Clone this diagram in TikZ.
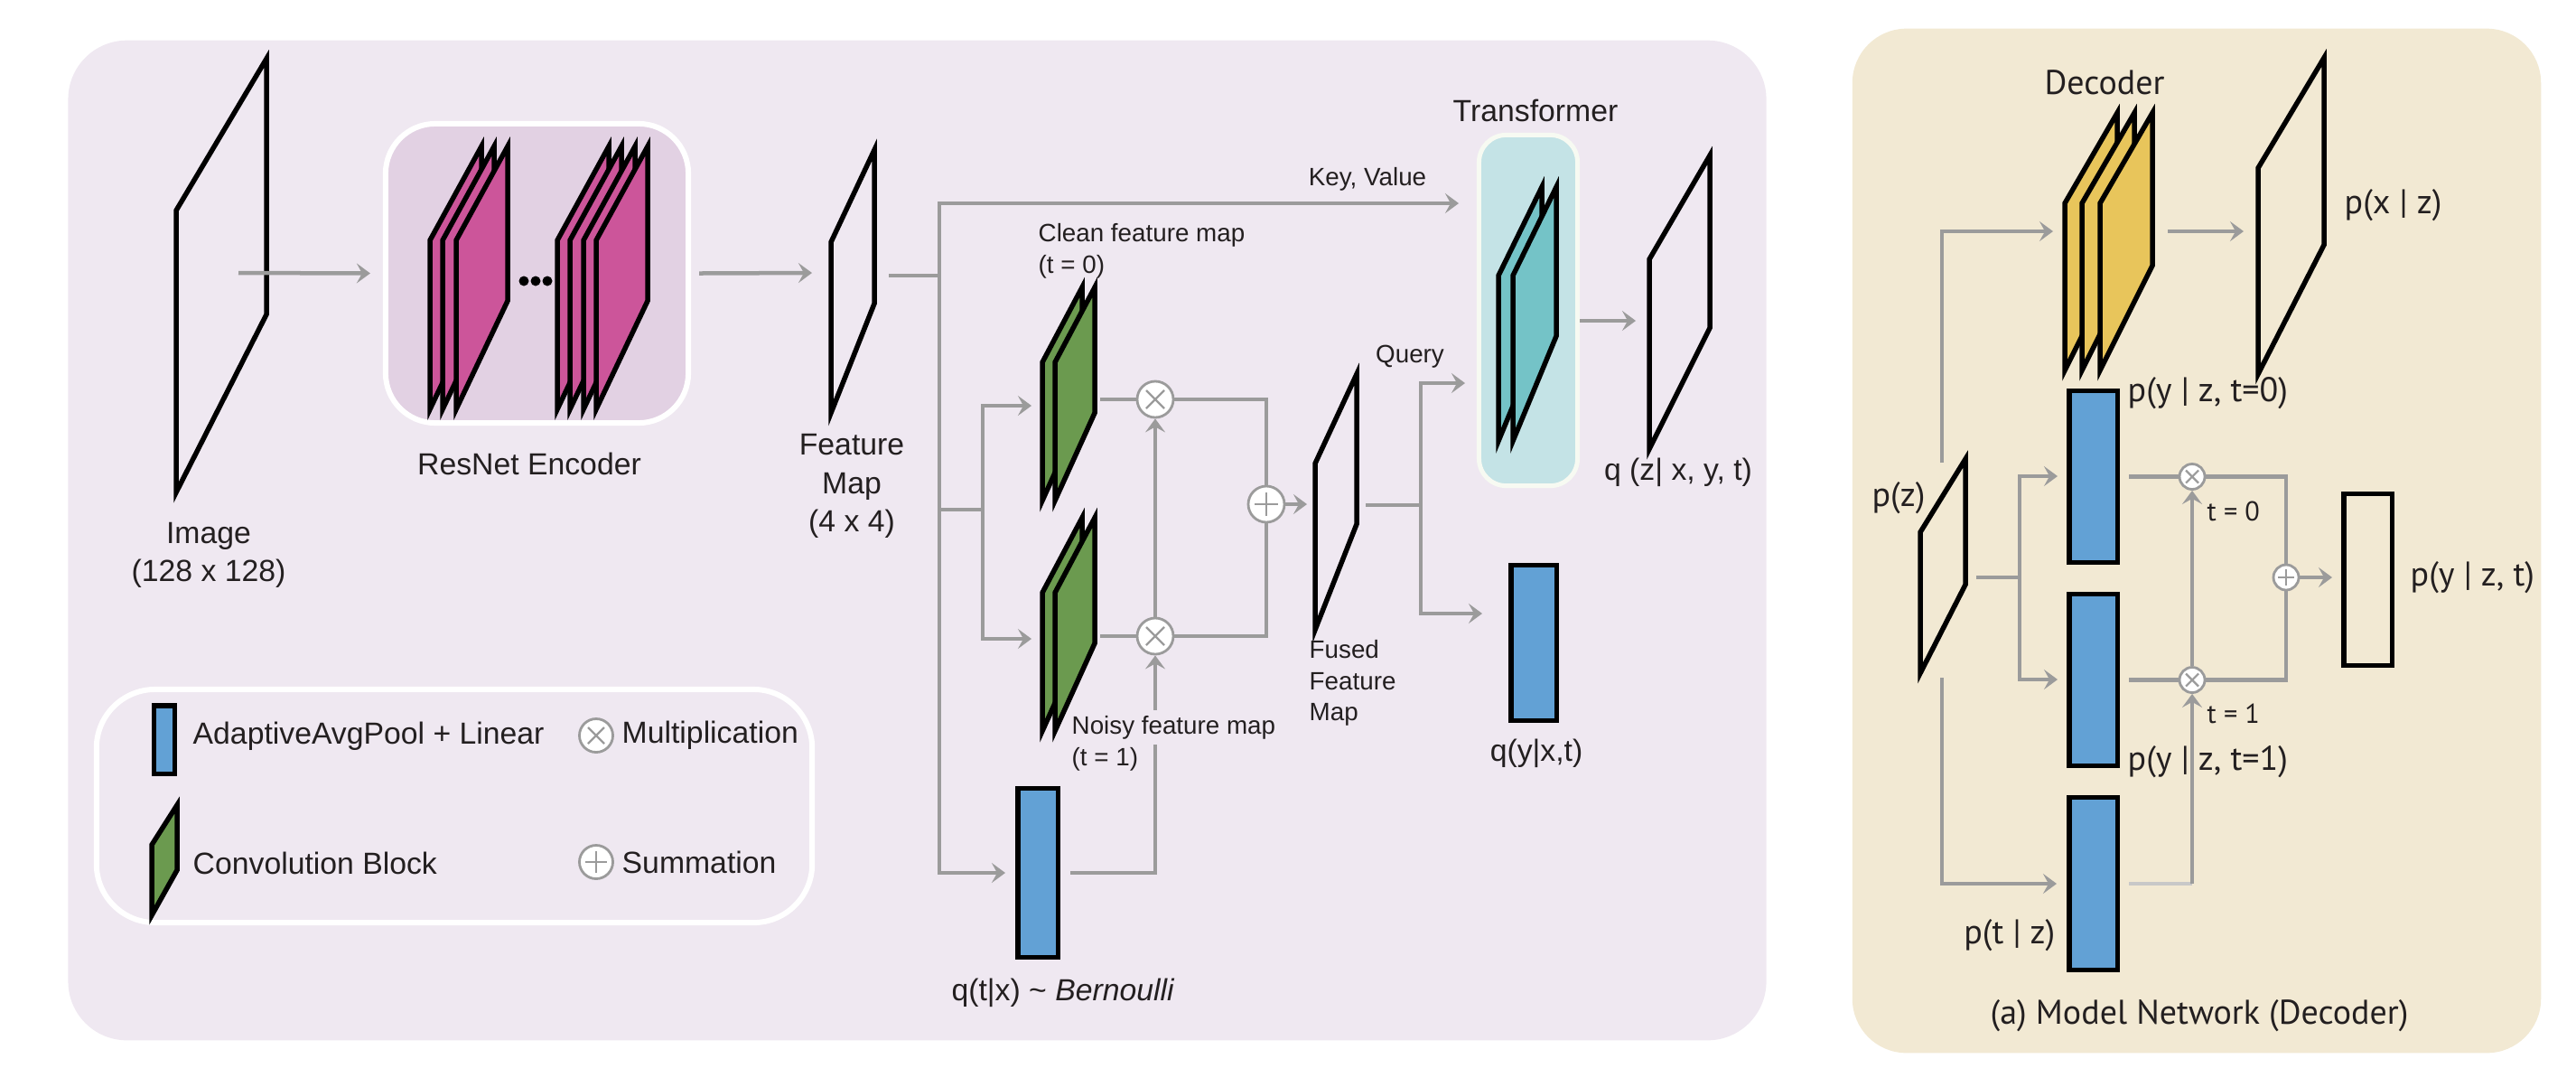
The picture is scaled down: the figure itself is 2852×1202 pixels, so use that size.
\documentclass[tikz,border=0pt]{standalone}
\usepackage{fontspec}
\setmainfont{Liberation Sans}
\newfontfamily\rightfam{PT Sans}
\usetikzlibrary{arrows.meta}
\definecolor{leftbg}{HTML}{EFE8F1}
\definecolor{resbg}{HTML}{E2D1E3}
\definecolor{rightbg}{HTML}{F2E9D3}
\definecolor{trbg}{HTML}{C4E3E6}
\definecolor{trborder}{HTML}{F7FAF2}
\definecolor{pinkfill}{HTML}{CC559A}
\definecolor{greenfill}{HTML}{6B9A4F}
\definecolor{tealfill}{HTML}{74C3C7}
\definecolor{boxblue}{HTML}{62A1D5}
\definecolor{yellowfill}{HTML}{E8C55B}
\definecolor{linegrey}{HTML}{9B9B9B}
\definecolor{lightgrey}{HTML}{C8C8C8}
\definecolor{txt}{HTML}{231F20}
\newcommand\lmainf{\fontsize{9.6pt}{12pt}\selectfont}
\newcommand\lsmallf{\fontsize{7.9pt}{9.8pt}\selectfont}
\newcommand\rmainf{\rightfam\fontsize{10.8pt}{13pt}\selectfont}
\newcommand\rsmallf{\rightfam\fontsize{8.6pt}{10pt}\selectfont}
\newcommand\mylayer[7]{\draw[blk, fill=#7] (#1,#2) -- (#1,#2-#4) -- (#1+#3,#2-#5) -- (#1+#3,#2-#6) -- cycle;}
\tikzset{
  conn/.style={draw=linegrey, line width=0.045cm},
  arr/.style={conn, -{Stealth[length=0.15cm, width=0.22cm, inset=0.06cm]}},
  blk/.style={draw=black, line width=0.055cm, line join=miter},
  bluebox/.style={blk, fill=boxblue, inner sep=0pt, rectangle},
  opnode/.style={circle, draw=linegrey, fill=white, line width=0.028cm, inner sep=0pt},
  mulop/.style={opnode, path picture={\draw[linegrey, line width=0.022cm] (path picture bounding box.center) +(-#1,-#1) -- +(#1,#1) +(-#1,#1) -- +(#1,-#1);}},
  sumop/.style={opnode, path picture={\draw[linegrey, line width=0.022cm] (path picture bounding box.center) +(-#1,0) -- +(#1,0) +(0,-#1) -- +(0,#1);}},
  lbl/.style={text=txt, inner sep=0pt, font=\lmainf},
  lsmall/.style={text=txt, inner sep=0pt, font=\lsmallf},
  rlbl/.style={text=txt, inner sep=0pt, font=\rmainf},
  rsmall/.style={text=txt, inner sep=0pt, font=\rsmallf},
}
\begin{document}
\begin{tikzpicture}[x=0.01cm, y=-0.01cm]
\useasboundingbox (0,0) rectangle (2852,1202);
% panels
\node[fill=leftbg, rounded corners=0.65cm, minimum width=18.79cm, minimum height=11.06cm, inner sep=0pt] (leftpanel) at (1015.5,598) {};
\node[fill=rightbg, rounded corners=0.6cm, minimum width=7.62cm, minimum height=11.33cm, inner sep=0pt] (rightpanel) at (2432,598.5) {};
% resnet box
\node[draw=white, fill=resbg, line width=0.06cm, rounded corners=0.55cm, minimum width=3.35cm, minimum height=3.31cm, inner sep=0pt] (resnet) at (594.5,302.5) {};
% transformer box
\node[draw=trborder, fill=trbg, line width=0.05cm, rounded corners=0.3cm, minimum width=1.09cm, minimum height=3.88cm, inner sep=0pt] (trans) at (1692,343.5) {};
% legend box
\node[draw=white, line width=0.06cm, rounded corners=0.65cm, minimum width=7.92cm, minimum height=2.58cm, inner sep=0pt] (legend) at (503,892) {};

% ---------- left panel shapes ----------
\mylayer{195}{545}{100}{312}{480}{197}{none}
\mylayer{476}{453}{57}{187}{291}{120}{pinkfill}
\mylayer{490}{453}{57}{187}{291}{120}{pinkfill}
\mylayer{505}{453}{57}{187}{291}{120}{pinkfill}
\fill[black] (580,311) circle (0.055cm) (593,311) circle (0.055cm) (606,311) circle (0.055cm);
\mylayer{617}{453}{57}{187}{291}{120}{pinkfill}
\mylayer{631}{453}{57}{187}{291}{120}{pinkfill}
\mylayer{646}{453}{57}{187}{291}{120}{pinkfill}
\mylayer{660}{453}{57}{187}{291}{120}{pinkfill}
\mylayer{920}{457}{48}{189}{291}{121}{none}
\mylayer{1154}{554}{44}{153}{236}{97}{greenfill}
\mylayer{1168}{554}{44}{153}{236}{97}{greenfill}
\mylayer{1154}{809}{44}{153}{236}{97}{greenfill}
\mylayer{1168}{809}{44}{153}{236}{97}{greenfill}
\mylayer{1659}{488}{48}{183}{281}{116}{tealfill}
\mylayer{1675}{488}{48}{183}{281}{116}{tealfill}
\mylayer{1456}{697}{46}{184}{283}{117}{none}
\mylayer{1826}{497}{67}{210}{325}{134}{none}
\mylayer{168}{1013}{28}{78}{122}{50}{greenfill}

% boxes and operators (left)
\node[bluebox, minimum width=0.445cm, minimum height=1.865cm] (qtx) at (1149,966) {};
\node[bluebox, minimum width=0.505cm, minimum height=1.715cm] (qyx) at (1698,711.5) {};
\node[bluebox, minimum width=0.225cm, minimum height=0.755cm] (legblue) at (182,818.5) {};
\node[mulop=0.1cm, minimum size=0.4cm] (m1) at (1279,442) {};
\node[mulop=0.1cm, minimum size=0.4cm] (m2) at (1279,704) {};
\node[sumop=0.13cm, minimum size=0.4cm] (plus) at (1402,558) {};
\node[mulop=0.09cm, minimum size=0.37cm] (legmul) at (660,814) {};
\node[sumop=0.12cm, minimum size=0.37cm] (legsum) at (660,954) {};

% coordinates (left)
\coordinate (imgout) at (264,302);
\coordinate (fmin) at (899,302);
\coordinate (fmout) at (984,305);
\coordinate (trfm) at (1040,305);
\coordinate (trmid) at (1040,564);
\coordinate (kvend) at (1615,225);
\coordinate (br) at (1088,564);
\coordinate (guin) at (1142,449);
\coordinate (glin) at (1142,707);
\coordinate (guout) at (1218,442);
\coordinate (glout) at (1218,704);
\coordinate (fusedin) at (1447,558);
\coordinate (fuout) at (1512,559);
\coordinate (fj) at (1573,559);
\coordinate (qin) at (1622,424);
\coordinate (qyin) at (1641,679);
\coordinate (trout) at (1749,355);
\coordinate (oqin) at (1811,355);

% connectors (left)
\draw[arr] (imgout) -- ([xshift=-0.14cm]resnet.west);
\draw[arr] ([xshift=0.09cm]resnet.east) -- (fmin);
\draw[conn] (fmout) -- (trfm);
\draw[arr] (trfm) |- (kvend);
\draw[arr] (trfm) |- ([xshift=-0.11cm]qtx.west);
\draw[conn] (trmid) -- (br);
\draw[arr] (br) |- (guin);
\draw[arr] (br) |- (glin);
\draw[conn] (guout) -- (m1);
\draw[conn] (glout) -- (m2);
\draw[conn] (m1) -| (plus);
\draw[conn] (m2) -| (plus);
\draw[arr] (plus) -- (fusedin);
\draw[arr] (m2) -- (m1);
\draw[arr] ([xshift=0.11cm]qtx.east) -| (m2);
\draw[conn] (fuout) -- (fj);
\draw[arr] (fj) |- (qin);
\draw[arr] (fj) |- (qyin);
\draw[arr] (trout) -- (oqin);

% labels (left)
\node[lbl, align=center] (timage) at (231,614) {Image\\(128 x 128)};
\node[lbl] (tresnet) at (586,513) {ResNet Encoder};
\node[lbl, align=center] (tfm) at (943,538) {Feature\\Map\\(4 x 4)};
\node[lbl] (ttrans) at (1700,122) {Transformer};
\node[lsmall] (tkv) at (1514,198) {Key, Value};
\node[lsmall, align=left, anchor=west] (tclean) at (1149,278) {Clean feature map\\(t = 0)};
\node[lsmall] (tquery) at (1561,395) {Query};
\node[lsmall, align=left, anchor=west] (tfused) at (1449,756) {Fused\\Feature\\Map};
\node[lsmall, anchor=west, fill=leftbg, inner ysep=0.06cm] (tnoisy) at (1186,805) {Noisy feature map};
\node[lsmall, anchor=west] (tnoisy2) at (1186,840) {(t = 1)};
\node[lbl] (tqz) at (1858,523) {q (z\textbar{} x, y, t)};
\node[lbl] (tqy) at (1701,834) {q(y\textbar{}x,t)};
\node[lbl] (tqt) at (1177,1099) {q(t\textbar{}x) \textasciitilde{} \textit{Bernoulli}};
\node[lbl, anchor=west] (tl1) at (213,815) {AdaptiveAvgPool + Linear};
\node[lbl, anchor=west] (tl2) at (688,814) {Multiplication};
\node[lbl, anchor=west] (tl3) at (213,955) {Convolution Block};
\node[lbl, anchor=west] (tl4) at (688,954) {Summation};

% ---------- right panel ----------
\mylayer{2286}{410}{58}{185}{285}{116}{yellowfill}
\mylayer{2305}{410}{58}{185}{285}{116}{yellowfill}
\mylayer{2325}{410}{58}{185}{285}{116}{yellowfill}
\mylayer{2500}{414}{73}{228}{350}{143}{none}
\mylayer{2126}{745}{50}{156}{237}{98}{none}

\node[bluebox, minimum width=0.535cm, minimum height=1.895cm] (b1) at (2317.5,527.5) {};
\node[bluebox, minimum width=0.535cm, minimum height=1.895cm] (b2) at (2317.5,752.5) {};
\node[bluebox, minimum width=0.535cm, minimum height=1.905cm] (b3) at (2317.5,978) {};
\node[blk, rectangle, inner sep=0pt, minimum width=0.535cm, minimum height=1.895cm] (outrect) at (2621.5,641.5) {};
\node[mulop=0.07cm, minimum size=0.28cm] (rm1) at (2427,527.5) {};
\node[mulop=0.07cm, minimum size=0.28cm] (rm2) at (2427,752.5) {};
\node[sumop=0.09cm, minimum size=0.28cm] (rplus) at (2531,639) {};

\coordinate (pztop) at (2150,512);
\coordinate (decin) at (2273,256);
\coordinate (pzmid) at (2188,639);
\coordinate (rj) at (2236,639);
\coordinate (b1in) at (2278,527);
\coordinate (b2in) at (2278,752);
\coordinate (pzbot) at (2150,750);
\coordinate (b3in) at (2277,978);
\coordinate (decout) at (2400,256);
\coordinate (pxin) at (2484,256);
\coordinate (pyin) at (2582,639);
\coordinate (tz) at (2427,978);

\draw[arr] (pztop) |- (decin);
\draw[conn] (pzmid) -- (rj);
\draw[arr] (rj) |- (b1in);
\draw[arr] (rj) |- (b2in);
\draw[arr] (pzbot) |- (b3in);
\draw[arr] (decout) -- (pxin);
\draw[conn] ([xshift=0.1cm]b1.east) -- (rm1);
\draw[conn] ([xshift=0.1cm]b2.east) -- (rm2);
\draw[conn] (rm1) -| (rplus);
\draw[conn] (rm2) -| (rplus);
\draw[arr] (rplus) -- (pyin);
\draw[conn, draw=lightgrey] ([xshift=0.1cm]b3.east) -- (tz);
\draw[arr] (tz) -- (rm2);
\draw[arr] (rm2) -- (rm1);

\node[rlbl] (tdec) at (2330,91) {Decoder};
\node[rlbl, anchor=west] (tpx) at (2595,227) {p(x | z)};
\node[rlbl] (tpz) at (2102,551) {p(z)};
\node[rlbl, anchor=west] (tpy0) at (2355,435) {p(y | z, t=0)};
\node[rsmall, anchor=west] (tt0) at (2443,566) {t = 0};
\node[rsmall, anchor=west] (tt1) at (2443,790) {t = 1};
\node[rlbl, anchor=west] (tpyt) at (2668,639) {p(y | z, t)};
\node[rlbl, anchor=west] (tpy1) at (2355,843) {p(y | z, t=1)};
\node[rlbl, anchor=east] (tptz) at (2276,1035) {p(t | z)};
\node[rlbl] (tcap) at (2435,1124) {(a) Model Network (Decoder)};
\end{tikzpicture}
\end{document}
